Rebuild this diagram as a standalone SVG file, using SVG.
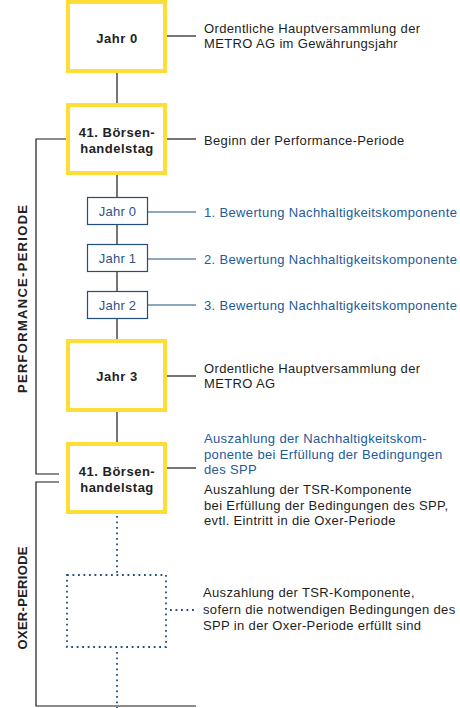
<svg xmlns="http://www.w3.org/2000/svg" width="460" height="708" viewBox="0 0 460 708">
<style>
.ybox{fill:#fff;stroke:#FFDD38;stroke-width:4}
.bbox{fill:#fff;stroke:#1f4e7f;stroke-width:1.2}
.dbox{fill:none;stroke:#1f4e7f;stroke-width:1.8;stroke-dasharray:1.8 3.7}
.ln{stroke:#1a1a1a;stroke-width:1.2;fill:none}
.bln{stroke:#1f4e7f;stroke-width:1.2;fill:none}
.dln{stroke:#1f4e7f;stroke-width:1.8;stroke-dasharray:1.8 3.7;fill:none}
.bt{font-family:"Liberation Sans",Arial,sans-serif;font-weight:bold;font-size:13px;fill:#222;text-anchor:middle;letter-spacing:0.5px}
.st{font-family:"Liberation Sans",Arial,sans-serif;font-size:13px;fill:#2f5486;text-anchor:middle;letter-spacing:0.2px}
.t{font-family:"Liberation Sans",Arial,sans-serif;font-size:13px;fill:#1e1e1e;letter-spacing:0.35px}
.tb{font-family:"Liberation Sans",Arial,sans-serif;font-size:13px;fill:#235a98;letter-spacing:0.35px}
.rt{font-family:"Liberation Sans",Arial,sans-serif;font-weight:bold;font-size:13px;fill:#222;text-anchor:middle}
</style>
<g id="connectors">
<line class="ln" x1="117" y1="73" x2="117" y2="103"/>
<line class="ln" x1="117" y1="175" x2="117" y2="197"/>
<line class="ln" x1="117" y1="225" x2="117" y2="244"/>
<line class="ln" x1="117" y1="272" x2="117" y2="291"/>
<line class="ln" x1="117" y1="319" x2="117" y2="339"/>
<line class="ln" x1="117" y1="412" x2="117" y2="442"/>
<line class="ln" x1="167" y1="36" x2="196" y2="36"/>
<line class="ln" x1="167" y1="139" x2="196" y2="139"/>
<line class="bln" x1="148" y1="212" x2="196" y2="212"/>
<line class="bln" x1="148" y1="259" x2="196" y2="259"/>
<line class="bln" x1="148" y1="305" x2="196" y2="305"/>
<line class="ln" x1="167" y1="376" x2="196" y2="376"/>
<line class="ln" x1="167" y1="468" x2="196" y2="468"/>
<path class="ln" d="M66 139H36V474H59"/>
<path class="ln" d="M59 482H36V706H196"/>
<line class="dln" x1="117" y1="516" x2="117" y2="573"/>
<line class="dln" x1="117" y1="652" x2="117" y2="708"/>
<line class="dln" x1="170" y1="610" x2="196" y2="610"/>
</g>
<g id="n-jahr0">
<rect class="ybox" x="68" y="2" width="97" height="69"/>
<text class="bt" x="117" y="43">Jahr 0</text>
<text class="t" x="204" y="33">Ordentliche Hauptversammlung der</text>
<text class="t" x="204" y="48">METRO AG im Gewährungsjahr</text>
</g>
<g id="n-boerse1">
<rect class="ybox" x="68" y="105" width="97" height="68"/>
<text class="bt" x="117" y="137">41. Börsen-</text>
<text class="bt" x="117" y="153">handelstag</text>
<text class="t" x="204" y="145">Beginn der Performance-Periode</text>
</g>
<g id="n-s0">
<rect class="bbox" x="87.5" y="197.5" width="60" height="27"/>
<text class="st" x="117.5" y="216">Jahr 0</text>
<text class="tb" x="204" y="217">1. Bewertung Nachhaltigkeitskomponente</text>
</g>
<g id="n-s1">
<rect class="bbox" x="87.5" y="244.5" width="60" height="27"/>
<text class="st" x="117.5" y="263">Jahr 1</text>
<text class="tb" x="204" y="264">2. Bewertung Nachhaltigkeitskomponente</text>
</g>
<g id="n-s2">
<rect class="bbox" x="87.5" y="291.5" width="60" height="27"/>
<text class="st" x="117.5" y="310">Jahr 2</text>
<text class="tb" x="204" y="310">3. Bewertung Nachhaltigkeitskomponente</text>
</g>
<g id="n-jahr3">
<rect class="ybox" x="68" y="341" width="97" height="69"/>
<text class="bt" x="117" y="381">Jahr 3</text>
<text class="t" x="204" y="373">Ordentliche Hauptversammlung der</text>
<text class="t" x="204" y="388">METRO AG</text>
</g>
<g id="n-boerse2">
<rect class="ybox" x="68" y="444" width="97" height="68"/>
<text class="bt" x="117" y="476">41. Börsen-</text>
<text class="bt" x="117" y="492">handelstag</text>
<text class="tb" x="204" y="443">Auszahlung der Nachhaltigkeitskom-</text>
<text class="tb" x="204" y="459">ponente bei Erfüllung der Bedingungen</text>
<text class="tb" x="204" y="474">des SPP</text>
<text class="t" x="204" y="494">Auszahlung der TSR-Komponente</text>
<text class="t" x="204" y="510">bei Erfüllung der Bedingungen des SPP,</text>
<text class="t" x="204" y="525">evtl. Eintritt in die Oxer-Periode</text>
</g>
<g id="n-oxer">
<rect class="dbox" x="67" y="575" width="99" height="72"/>
<text class="t" x="203" y="597">Auszahlung der TSR-Komponente,</text>
<text class="t" x="203" y="614">sofern die notwendigen Bedingungen des</text>
<text class="t" x="203" y="630">SPP in der Oxer-Periode erfüllt sind</text>
</g>
<g id="labels">
<text class="rt" transform="translate(27,299) rotate(-90)" textLength="188" lengthAdjust="spacing">PERFORMANCE-PERIODE</text>
<text class="rt" transform="translate(27,598) rotate(-90)" textLength="103" lengthAdjust="spacing">OXER-PERIODE</text>
</g>
</svg>
